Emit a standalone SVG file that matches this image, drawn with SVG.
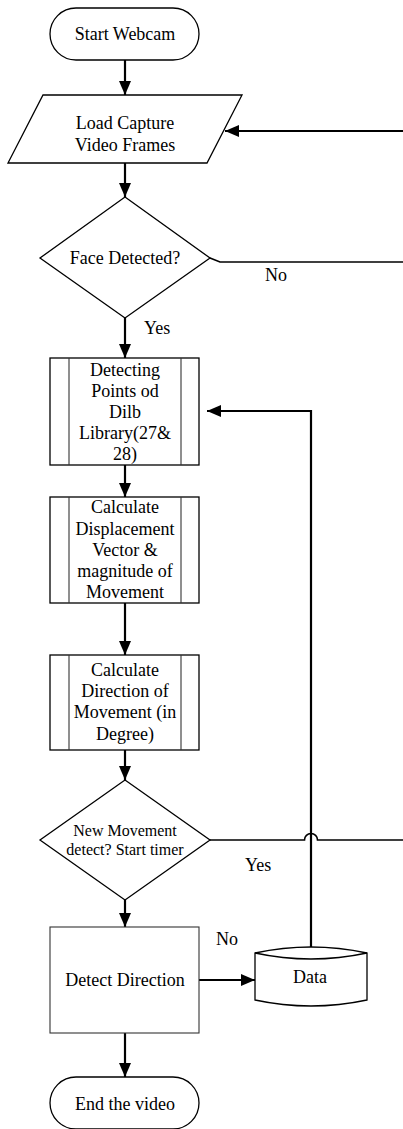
<svg xmlns="http://www.w3.org/2000/svg" width="403" height="1129" viewBox="0 0 403 1129">
<defs>
<marker id="ah" markerUnits="userSpaceOnUse" markerWidth="14" markerHeight="14" viewBox="0 0 14 12" refX="14" refY="6" orient="auto">
<path d="M0,0 L14,6 L0,12 Z" fill="#000"/>
</marker>
</defs>
<style>
.s{fill:#fff;stroke:#000;stroke-width:1.3}
.g{fill:#fff;stroke:#333;stroke-width:1.1}
.c{fill:none;stroke:#000;stroke-width:2.2}
text{font-family:'Liberation Serif','Tinos','DejaVu Serif',serif;fill:#000}
.t{font-size:18px;text-anchor:middle}
.ts{font-size:16px;text-anchor:middle}
.l{font-size:18px}
</style>
<rect width="403" height="1129" fill="#fff"/>
<g id="connectors">
<path class="c" d="M125,60 V95" marker-end="url(#ah)"/>
<path class="c" d="M403,131 H225" marker-end="url(#ah)"/>
<path class="c" d="M125,163 V197" marker-end="url(#ah)"/>
<path class="c" style="stroke-width:1.6" d="M210,258 L220,262 H403"/>
<path class="c" d="M125,318 V358" marker-end="url(#ah)"/>
<path class="c" d="M125,465 V497" marker-end="url(#ah)"/>
<path class="c" d="M125,603 V655" marker-end="url(#ah)"/>
<path class="c" d="M125,750 V780" marker-end="url(#ah)"/>
<path class="c" style="stroke-width:1.6" d="M210,840 H304.5 A6.5,6.5 0 0 1 317.5,840 H403"/>
<path class="c" d="M311,947 V411 H207" marker-end="url(#ah)"/>
<path class="c" d="M125,900 V927" marker-end="url(#ah)"/>
<path class="c" d="M199,980 H255" marker-end="url(#ah)"/>
<path class="c" d="M125,1033 V1077" marker-end="url(#ah)"/>
</g>
<g id="start">
<rect class="s" x="50" y="8" width="149" height="52" rx="26" ry="26"/>
<text class="t" x="125" y="40" font-family="Liberation Serif, serif">Start Webcam</text>
</g>
<g id="load">
<polygon class="s" points="43,95 242,95 207,163 8,163"/>
<text class="t" x="125" y="129">Load Capture</text>
<text class="t" x="125" y="151">Video Frames</text>
</g>
<g id="face">
<polygon class="s" points="125,197 210,258 125,318 40,258"/>
<text class="t" x="125" y="264">Face Detected?</text>
</g>
<text class="l" x="265" y="281">No</text>
<text class="l" x="144" y="334">Yes</text>
<g id="points">
<rect class="s" x="50" y="358" width="149" height="107"/>
<line class="g" x1="69" y1="358" x2="69" y2="465"/>
<line class="g" x1="181" y1="358" x2="181" y2="465"/>
<text class="t" x="125" y="376">Detecting</text>
<text class="t" x="125" y="397">Points od</text>
<text class="t" x="125" y="418">Dilb</text>
<text class="t" x="125" y="439">Library(27&amp;</text>
<text class="t" x="125" y="460">28)</text>
</g>
<g id="displacement">
<rect class="s" x="50" y="497" width="149" height="106"/>
<line class="g" x1="69" y1="497" x2="69" y2="603"/>
<line class="g" x1="181" y1="497" x2="181" y2="603"/>
<text class="t" x="125" y="513">Calculate</text>
<text class="t" x="125" y="535">Displacement</text>
<text class="t" x="125" y="556">Vector &amp;</text>
<text class="t" x="125" y="577">magnitude of</text>
<text class="t" x="125" y="598">Movement</text>
</g>
<g id="direction">
<rect class="s" x="50" y="655" width="149" height="95"/>
<line class="g" x1="69" y1="655" x2="69" y2="750"/>
<line class="g" x1="181" y1="655" x2="181" y2="750"/>
<text class="t" x="125" y="676">Calculate</text>
<text class="t" x="125" y="697">Direction of</text>
<text class="t" x="125" y="718">Movement (in</text>
<text class="t" x="125" y="740">Degree)</text>
</g>
<g id="newmove">
<polygon class="s" points="125,780 210,840 125,900 40,840"/>
<text class="ts" x="125" y="836">New Movement</text>
<text class="ts" x="125" y="855">detect? Start timer</text>
</g>
<text class="l" x="245" y="871">Yes</text>
<text class="l" x="216" y="945">No</text>
<g id="detect">
<rect class="g" x="50" y="927" width="149" height="106"/>
<text class="t" x="125" y="986">Detect Direction</text>
</g>
<g id="data">
<path class="s" d="M255,953 Q311,941 367,953 V1000 Q311,1012 255,1000 Z"/>
<path class="s" style="fill:none" d="M255,953 Q311,965 367,953"/>
<text class="t" x="310" y="983">Data</text>
</g>
<g id="end">
<rect class="s" x="50" y="1077" width="149" height="52" rx="26" ry="26"/>
<text class="t" x="125" y="1110">End the video</text>
</g>
</svg>
